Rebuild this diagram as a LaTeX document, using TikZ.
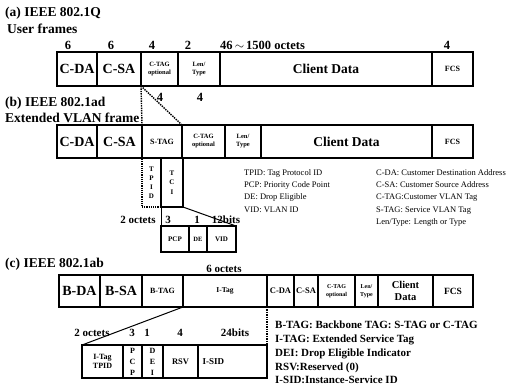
\documentclass[tikz,border=0pt]{standalone}
\usepackage{fontspec}
\setmainfont{Liberation Serif}
\usepackage{tikz}
\usetikzlibrary{positioning}
\newcommand{\bsize}[2]{\fontsize{#1}{#2}\selectfont\bfseries}
\tikzset{
  fld/.style={draw, line width=1.6pt, minimum width=#1, minimum height=33pt,
    inner sep=0pt, outer sep=0pt, align=center},
  subfld/.style={draw, line width=1.2pt, minimum width=#1,
    inner sep=0pt, outer sep=0pt, align=center},
  num/.style={inner sep=0pt, font=\bsize{12.5}{13}},
  subnum/.style={inner sep=0pt, font=\bsize{11}{12}},
  ttl/.style={anchor=west, inner sep=0pt, font=\bsize{13.5}{15}},
  legend/.style={anchor=north west, inner sep=0pt, align=left},
  ins/.style={densely dotted, line width=1.4pt},
  link/.style={line width=1pt},
}

\begin{document}
\begin{tikzpicture}[x=1pt, y=-1pt]
  \useasboundingbox (0,0) rectangle (510,391);

  \node[ttl] (ta) at (5,13) {(a) IEEE 802.1Q};
  \node[ttl] (ua) at (7,29) {User frames};
  \node[fld=40pt, minimum height=34pt, anchor=north west, font=\bsize{14}{15}] (acda) at (57,52) {C-DA};
  \node[fld=44pt, minimum height=34pt, right=0pt of acda, font=\bsize{14}{15}] (acsa) {C-SA};
  \node[fld=37pt, minimum height=34pt, right=0pt of acsa, font=\bsize{6.5}{8}] (actag) {C-TAG\\optional};
  \node[fld=42pt, minimum height=34pt, right=0pt of actag, font=\bsize{6.5}{8}] (alen) {Len/\\Type};
  \node[fld=212pt, minimum height=34pt, right=0pt of alen, font=\bsize{13.5}{15}] (adata) {Client Data};
  \node[fld=41pt, minimum height=34pt, right=0pt of adata, font=\bsize{8}{9}] (afcs) {FCS};
  \node[num] (na1) at (68,45) {6};
  \node[num] (na2) at (111,45) {6};
  \node[num] (na3) at (152,45) {4};
  \node[num] (na4) at (188,45) {2};
  \node[num, anchor=west] (na5) at (220,45) {46\,{\large$\sim$}\,1500 octets};
  \node[num] (na6) at (447,45) {4};
  \node[num] (na7) at (160,97) {4};
  \node[num] (na8) at (200,97) {4};

  \node[ttl] (tb) at (5,103) {(b) IEEE 802.1ad};
  \node[ttl] (ub) at (5,118) {Extended VLAN frame};
  \node[fld=40pt, anchor=north west, font=\bsize{14}{15}] (bcda) at (57,125) {C-DA};
  \node[fld=45pt, right=0pt of bcda, font=\bsize{14}{15}] (bcsa) {C-SA};
  \node[fld=40pt, right=0pt of bcsa, font=\bsize{8}{9}] (bstag) {S-TAG};
  \node[fld=43pt, right=0pt of bstag, font=\bsize{6.5}{8}] (bctag) {C-TAG\\optional};
  \node[fld=36pt, right=0pt of bctag, font=\bsize{6.5}{8}] (blen) {Len/\\Type};
  \node[fld=171pt, right=0pt of blen, font=\bsize{13.5}{15}] (bdata) {Client Data};
  \node[fld=41pt, right=0pt of bdata, font=\bsize{8}{9}] (bfcs) {FCS};
  \draw[ins] (actag.south west) -- (bstag.north west);
  \draw[ins] (actag.south west) -- (bstag.north east);

  \node[subfld=19pt, minimum height=49pt, anchor=north west, densely dotted,
    font=\bsize{7}{9}] (tpid) at (bstag.south west) {T\\P\\I\\D};
  \node[subfld=22pt, minimum height=49pt, right=0pt of tpid, font=\bsize{7}{9.5}] (tci) {T\\C\\I};
  \node[subfld=28pt, minimum height=26pt, anchor=north west, font=\bsize{7}{8}] (pcp)
    at ([yshift=-19pt]tci.south west) {PCP};
  \node[subfld=18pt, minimum height=26pt, right=0pt of pcp, font=\bsize{6.5}{8}] (de) {DE};
  \node[subfld=29pt, minimum height=26pt, right=0pt of de, font=\bsize{7}{8}] (vid) {VID};
  \draw[link] (tci.south west) -- (pcp.north west);
  \draw[link] (tci.south east) -- (vid.north east);
  \node[subnum] (nb1) at (138,220) {2 octets};
  \node[subnum] (nb2) at (168,220) {3};
  \node[subnum] (nb3) at (197,220) {1};
  \node[subnum] (nb4) at (226,220) {12bits};

  \node[legend, font=\fontsize{8.5}{12.4}\selectfont] (legb1) at (244,169)
    {TPID: Tag Protocol ID\\PCP: Priority Code Point\\DE: Drop Eligible\\VID: VLAN ID};
  \node[legend, font=\fontsize{8.5}{12.4}\selectfont] (legb2) at (376,169)
    {C-DA: Customer Destination Address\\C-SA: Customer Source Address\\C-TAG:Customer VLAN Tag\\S-TAG: Service VLAN Tag\\Len/Type: Length or Type};

  \node[ttl] (tc) at (5,264) {(c) IEEE 802.1ab};
  \node[fld=41pt, minimum height=32pt, anchor=north west, font=\bsize{14}{15}] (cbda) at (59,275) {B-DA};
  \node[fld=42pt, minimum height=32pt, right=0pt of cbda, font=\bsize{14}{15}] (cbsa) {B-SA};
  \node[fld=41pt, minimum height=32pt, right=0pt of cbsa, font=\bsize{8}{9}] (cbtag) {B-TAG};
  \node[fld=84pt, minimum height=32pt, right=0pt of cbtag, font=\bsize{7.5}{9}] (citag) {I-Tag};
  \node[fld=27pt, minimum height=32pt, right=0pt of citag, font=\bsize{8.5}{9}] (ccda) {C-DA};
  \node[fld=24pt, minimum height=32pt, right=0pt of ccda, font=\bsize{8.5}{9}] (ccsa) {C-SA};
  \node[fld=37pt, minimum height=32pt, right=0pt of ccsa, font=\bsize{6}{7.5}] (cctag) {C-TAG\\optional};
  \node[fld=23pt, minimum height=32pt, right=0pt of cctag, font=\bsize{6}{7.5}] (clen) {Len/\\Type};
  \node[fld=55pt, minimum height=32pt, right=0pt of clen, font=\bsize{10.5}{12}] (cdata) {Client\\Data};
  \node[fld=40pt, minimum height=32pt, right=0pt of cdata, font=\bsize{9.5}{10}] (cfcs) {FCS};
  \node[subnum] (nc0) at (224,269) {6 octets};

  \node[subfld=41pt, minimum height=33pt, line width=1.4pt, anchor=north west, font=\bsize{8}{9}] (itpid)
    at (82,345) {I-Tag\\TPID};
  \node[subfld=19pt, minimum height=33pt, line width=1.4pt, right=0pt of itpid, font=\bsize{8}{11}] (ipcp) {P\\C\\P};
  \node[subfld=21pt, minimum height=33pt, line width=1.4pt, right=0pt of ipcp, font=\bsize{8}{11}] (idei) {D\\E\\I};
  \node[subfld=35pt, minimum height=33pt, line width=1.4pt, right=0pt of idei, font=\bsize{8.5}{9}] (rsv) {RSV};
  \node[subfld=69pt, minimum height=33pt, line width=1.4pt, right=0pt of rsv, text width=60pt,
    align=left, font=\bsize{9}{10}] (isid) {I-SID};
  \draw[link] (citag.south west) -- (itpid.north west);
  \draw[ins] (citag.south east) -- (isid.north east);
  \node[subnum] (nc1) at (92,333) {2 octets};
  \node[subnum] (nc2) at (132,333) {3};
  \node[subnum] (nc3) at (147,333) {1};
  \node[subnum] (nc4) at (180,333) {4};
  \node[subnum] (nc5) at (235,333) {24bits};

  \node[legend, font=\bsize{11}{13.75}] (legc) at (275,321)
    {B-TAG: Backbone TAG: S-TAG or C-TAG\\I-TAG: Extended Service Tag\\DEI: Drop Eligible Indicator\\RSV:Reserved (0)\\I-SID:Instance-Service ID};
\end{tikzpicture}
\end{document}
